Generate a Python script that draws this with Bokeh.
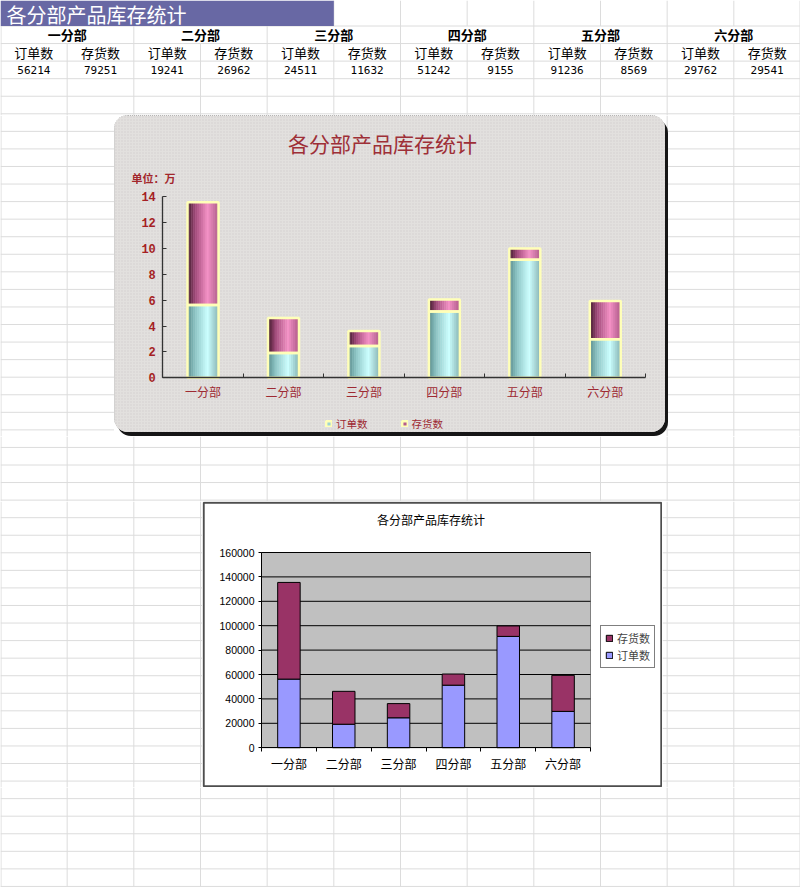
import numpy as np
from bokeh.plotting import figure
from bokeh.layouts import column, row
from bokeh.models import (Range1d, LinearAxis, FixedTicker, Legend, LegendItem,
                          BasicTickFormatter, BoxAnnotation)
from bokeh.core.properties import value
from bokeh.embed import file_html
from bokeh.resources import INLINE

# ---------------- data ----------------
departments = ["一分部", "二分部", "三分部", "四分部", "五分部", "六分部"]
orders = [56214, 19241, 24511, 51242, 91236, 29762]
stocks = [79251, 26962, 11632, 9155, 8569, 29541]
series_names = ["订单数", "存货数"]
sheet_title = "各分部产品库存统计"
chart_title = "各分部产品库存统计"
unit_label = "单位：万"
y_ticks_wan = [0, 2, 4, 6, 8, 10, 12, 14]
y_ticks_abs = [0, 20000, 40000, 60000, 80000, 100000, 120000, 140000, 160000]

# ---------------- page / sheet geometry ----------------
PAGE_W, PAGE_H = 800, 887
N_COLS = 12
COL_W = PAGE_W / N_COLS
ROW0_H = 25.5
ROW_H = 17.56
GRID_COLOR = "#dcdcdc"
CJK = "Noto Sans CJK SC"
DARK_RED = "#9e2a33"


def sheet_fig(x0, x1, y0, y1):
    p = figure(width=int(x1 - x0), height=int(y1 - y0),
               x_range=Range1d(x0, x1), y_range=Range1d(y1, y0),
               x_axis_type=None, y_axis_type=None, toolbar_location=None,
               output_backend="svg", min_border=0, outline_line_color=None,
               background_fill_color="white", border_fill_color="white")
    gx0, gy0, gx1, gy1 = [], [], [], []
    for k in range(N_COLS + 1):
        gx = min(max(k * COL_W, 0.5), PAGE_W - 0.5)
        spans = []
        if k >= 5:
            spans.append((0, ROW0_H))
        spans.append((ROW0_H if k % 2 == 0 else ROW0_H + ROW_H, PAGE_H))
        for a, b in spans:
            a, b = max(a, y0), min(b, y1)
            if a < b and x0 <= gx <= x1:
                gx0.append(gx); gx1.append(gx); gy0.append(a); gy1.append(b)
    k = 0
    while ROW0_H + k * ROW_H <= PAGE_H:
        gy = ROW0_H + k * ROW_H
        if y0 <= gy <= y1:
            gx0.append(x0); gx1.append(x1); gy0.append(gy); gy1.append(gy)
        k += 1
    p.segment(gx0, gy0, gx1, gy1, line_color=GRID_COLOR, line_width=1)
    return p


# ---------------- band A : the table ----------------
bandA = sheet_fig(0, 800, 0, 115)
bandA.quad(left=[0], right=[5 * COL_W], top=[0], bottom=[ROW0_H],
           fill_color="#6868a4", line_color=None)
bandA.text(x=[6], y=[ROW0_H / 2 + 1], text=[sheet_title], text_font=value(CJK),
           text_font_size="20px", text_color="white", text_baseline="middle",
           text_align="left")
bandA.text(x=[(2 * i + 1) * COL_W for i in range(len(departments))],
           y=[ROW0_H + ROW_H / 2] * len(departments), text=departments,
           text_font=value(CJK), text_font_size="13px", text_font_style="bold",
           text_color="black", text_baseline="middle", text_align="center")
sub_x = [(j + 0.5) * COL_W for j in range(2 * len(departments))]
bandA.text(x=sub_x, y=[ROW0_H + 1.5 * ROW_H] * len(sub_x),
           text=series_names * len(departments), text_font=value(CJK),
           text_font_size="13px", text_color="black", text_baseline="middle",
           text_align="center")
vals = []
for o, s in zip(orders, stocks):
    vals += [str(o), str(s)]
bandA.text(x=sub_x, y=[ROW0_H + 2.5 * ROW_H] * len(sub_x), text=vals,
           text_font=value("DejaVu Sans Mono"), text_font_size="11px",
           text_color="black", text_baseline="middle", text_align="center")

n = len(departments)
centers = np.arange(n) + 0.5

# ---------------- chart 1 (textured, stacked, in 万) ----------------
C1_X0, C1_X1, C1_Y0, C1_Y1 = 114, 665, 115, 432
PA1_L, PA1_R, PA1_T, PA1_B = 162.3, 645.0, 196.0, 377.3
Y1_MAX = 14
ux1 = (PA1_R - PA1_L) / n
uy1 = (PA1_B - PA1_T) / Y1_MAX


def sx1(px):
    return (px - PA1_L) / ux1


def sy1(py):
    return (PA1_B - py) / uy1


C1_BG = "#e2e0de"
c1 = figure(width=C1_X1 - C1_X0, height=C1_Y1 - C1_Y0,
            x_range=Range1d(sx1(C1_X0), sx1(C1_X1)),
            y_range=Range1d(sy1(C1_Y1), sy1(C1_Y0)),
            x_axis_type=None, y_axis_type=None, toolbar_location=None,
            output_backend="svg", min_border=0, outline_line_color=None,
            background_fill_color=C1_BG, border_fill_color=C1_BG,
            styles={"border-radius": "14px", "overflow": "hidden",
                    "position": "relative", "z-index": "5",
                    "box-shadow": "3px 4px 0 #161616",
                    "outline": "1px dotted #8a8a8a", "outline-offset": "-1px"})
# fine speckle texture of the chart area
c1.add_layout(BoxAnnotation(fill_alpha=0, line_color=None, hatch_pattern="dot",
                            hatch_scale=3, hatch_weight=1, hatch_color="#b4b2b0",
                            hatch_alpha=0.35, level="underlay"))

orders_w = np.array(orders) / 10000.0
stocks_w = np.array(stocks) / 10000.0
totals_w = orders_w + stocks_w


def hex_rgb(h):
    h = h.lstrip("#")
    return [int(h[i:i + 2], 16) for i in (0, 2, 4)]


def gradient(stops, nst):
    ts = (np.arange(nst) + 0.5) / nst
    pos = [s[0] for s in stops]
    rgb = np.array([hex_rgb(s[1]) for s in stops], dtype=float)
    out = []
    for t in ts:
        c = [int(round(np.interp(t, pos, rgb[:, i]))) for i in range(3)]
        out.append("#%02x%02x%02x" % tuple(c))
    return out


cyan_stops = [(0.0, "#578a8a"), (0.25, "#8ec6c6"), (0.65, "#ccffff"), (1.0, "#86b4b4")]
pink_stops = [(0.0, "#3a1626"), (0.25, "#a24a7a"), (0.65, "#f492c6"), (1.0, "#b05a88")]
NS = 16
BW1 = 0.385
offs = (np.arange(NS) + 0.5) / NS * BW1 - BW1 / 2
stripe_x = (centers[:, None] + offs[None, :]).ravel()
r_o1 = c1.vbar(x=stripe_x, width=BW1 / NS * 1.2, bottom=0, top=np.repeat(orders_w, NS),
               fill_color=gradient(cyan_stops, NS) * n, line_color=None)
r_s1 = c1.vbar(x=stripe_x, width=BW1 / NS * 1.2, bottom=np.repeat(orders_w, NS),
               top=np.repeat(totals_w, NS), fill_color=gradient(pink_stops, NS) * n,
               line_color=None)
r_oe1 = c1.vbar(x=centers, width=BW1, bottom=0, top=orders_w, fill_color=None,
                line_color="#ffffb8", line_width=2.5)
r_se1 = c1.vbar(x=centers, width=BW1, bottom=orders_w, top=totals_w, fill_color=None,
                line_color="#ffffb8", line_width=2.5)

xax1 = LinearAxis(fixed_location=0, bounds=(0, n),
                  ticker=FixedTicker(ticks=list(centers), minor_ticks=list(range(n + 1))),
                  major_label_overrides={float(c): d for c, d in zip(centers, departments)},
                  major_tick_line_color=None, major_tick_in=0, major_tick_out=0,
                  minor_tick_in=4, minor_tick_out=0, minor_tick_line_color="#333333",
                  axis_line_color="#333333", axis_line_width=1.3,
                  major_label_standoff=5, major_label_text_font=CJK,
                  major_label_text_font_size="12px", major_label_text_color=DARK_RED)
c1.add_layout(xax1, "below")
yax1 = LinearAxis(fixed_location=0, bounds=(0, Y1_MAX),
                  ticker=FixedTicker(ticks=y_ticks_wan),
                  major_tick_in=4, major_tick_out=0, minor_tick_line_color=None,
                  axis_line_color="#333333", axis_line_width=1.3,
                  major_tick_line_color="#333333",
                  major_label_standoff=7, major_label_text_font="Liberation Mono",
                  major_label_text_font_style="bold", major_label_text_font_size="12px",
                  major_label_text_color="#a51f24")
c1.add_layout(yax1, "left")

c1.text(x=[sx1(382)], y=[sy1(142)], text=[chart_title], text_align="center",
        text_baseline="middle", text_font=value(CJK), text_font_size="21px",
        text_color="#9e2f37")
c1.text(x=[sx1(131)], y=[sy1(177)], text=[unit_label], text_align="left",
        text_baseline="middle", text_font=value(CJK), text_font_size="11px",
        text_font_style="bold", text_color="#a2262b")

legend1 = Legend(items=[LegendItem(label=series_names[0], renderers=[r_o1, r_oe1], index=5),
                        LegendItem(label=series_names[1], renderers=[r_s1, r_se1], index=5)],
                 orientation="horizontal", location=(211, 1), padding=0, margin=0,
                 spacing=33, glyph_width=7, glyph_height=7, label_height=16,
                 label_standoff=4, label_text_font=CJK, label_text_font_size="10.5px",
                 label_text_color=DARK_RED, border_line_color=None,
                 background_fill_alpha=0)
c1.add_layout(legend1)

# ---------------- chart 2 (classic excel stacked columns) ----------------
C2_X0, C2_X1, C2_Y0, C2_Y1 = 202, 662, 501, 787
PA2_L, PA2_R, PA2_T, PA2_B = 261.0, 590.0, 552.0, 747.2
Y2_MAX = 160000
ux2 = (PA2_R - PA2_L) / n
uy2 = (PA2_B - PA2_T) / Y2_MAX


def sx2(px):
    return (px - PA2_L) / ux2


def sy2(py):
    return (PA2_B - py) / uy2


c2 = figure(width=C2_X1 - C2_X0, height=C2_Y1 - C2_Y0,
            x_range=Range1d(sx2(C2_X0), sx2(C2_X1)),
            y_range=Range1d(sy2(C2_Y1), sy2(C2_Y0)),
            x_axis_type=None, y_axis_type=None, toolbar_location=None,
            output_backend="svg", min_border=0, outline_line_color=None,
            background_fill_color="white", border_fill_color="white")
# chart-area frame
c2.add_layout(BoxAnnotation(left=sx2(C2_X0 + 1.2), right=sx2(C2_X1 - 1.2),
                            bottom=sy2(C2_Y1 - 1.2), top=sy2(C2_Y0 + 1.2),
                            fill_alpha=0, line_color="#4e4e4e", line_alpha=1.0,
                            line_width=2, level="overlay"))
# plot area
c2.add_layout(BoxAnnotation(left=0, right=n, bottom=0, top=Y2_MAX,
                            fill_color="#c0c0c0", fill_alpha=1.0,
                            line_color="#808080", line_alpha=1.0, line_width=1,
                            level="underlay"))
c2.segment(x0=0, x1=n, y0=y_ticks_abs[1:], y1=y_ticks_abs[1:], line_color="black",
           line_width=1)

yax2 = LinearAxis(fixed_location=0, bounds=(0, Y2_MAX),
                  ticker=FixedTicker(ticks=y_ticks_abs),
                  formatter=BasicTickFormatter(use_scientific=False),
                  major_tick_in=0, major_tick_out=3, minor_tick_line_color=None,
                  axis_line_color="black", major_tick_line_color="black",
                  major_label_standoff=4, major_label_text_font="Liberation Sans",
                  major_label_text_font_size="10.5px", major_label_text_color="black")
c2.add_layout(yax2, "left")
xax2 = LinearAxis(fixed_location=0, bounds=(0, n),
                  ticker=FixedTicker(ticks=list(centers), minor_ticks=list(range(n + 1))),
                  major_label_overrides={float(c): d for c, d in zip(centers, departments)},
                  major_tick_line_color=None, major_tick_in=0, major_tick_out=0,
                  minor_tick_in=0, minor_tick_out=4, minor_tick_line_color="black",
                  axis_line_color="black", major_label_standoff=3,
                  major_label_text_font=CJK, major_label_text_font_size="12px",
                  major_label_text_color="black")
c2.add_layout(xax2, "below")

BW2 = 0.41
r_o2 = c2.vbar(x=centers, width=BW2, bottom=0, top=orders, fill_color="#9999ff",
               line_color="black", line_width=1)
r_s2 = c2.vbar(x=centers, width=BW2, bottom=orders,
               top=list(np.array(orders) + np.array(stocks)), fill_color="#993366",
               line_color="black", line_width=1)
c2.text(x=[sx2(430.5)], y=[sy2(519)], text=[chart_title], text_align="center",
        text_baseline="middle", text_font=value(CJK), text_font_size="12px",
        text_color="black")
legend2 = Legend(items=[LegendItem(label=series_names[1], renderers=[r_s2]),
                        LegendItem(label=series_names[0], renderers=[r_o2])],
                 location=(600 - C2_X0, C2_Y1 - 668), margin=0, padding=4, spacing=1,
                 glyph_width=8, glyph_height=8, label_height=13, label_standoff=4,
                 label_text_font=CJK, label_text_font_size="11px",
                 border_line_color="black", border_line_width=1,
                 background_fill_color="white", background_fill_alpha=1.0)
c2.add_layout(legend2)

# ---------------- assemble the sheet ----------------
layout = column(
    bandA,
    row(sheet_fig(0, 114, 115, 436), c1, sheet_fig(665, 800, 115, 436)),
    sheet_fig(0, 800, 436, 501),
    row(sheet_fig(0, 202, 501, 787), c2, sheet_fig(662, 800, 501, 787)),
    sheet_fig(0, 800, 787, 887),
)

open("out.html", "w").write(file_html(layout, INLINE))
